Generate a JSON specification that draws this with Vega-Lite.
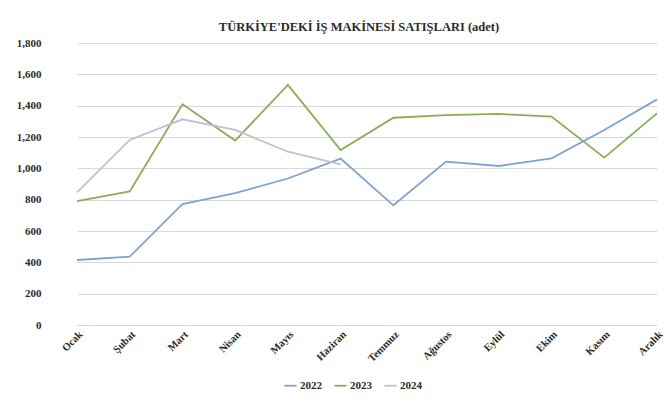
{
  "$schema": "https://vega.github.io/schema/vega-lite/v6.json",
  "width": 616,
  "height": 282,
  "padding": {"left": 16, "top": 20, "right": 0, "bottom": 5},
  "background": "white",
  "title": {
    "text": "TÜRKİYE'DEKİ İŞ MAKİNESİ SATIŞLARI (adet)",
    "font": "Liberation Serif",
    "fontSize": 12.5,
    "fontWeight": "bold",
    "color": "#2b2b2b",
    "offset": 4
  },
  "config": {
    "view": {"stroke": null},
    "font": "Liberation Serif"
  },
  "data": {
    "values": [
      {"ay": "Ocak", "yil": "2022", "adet": 415},
      {"ay": "Şubat", "yil": "2022", "adet": 437},
      {"ay": "Mart", "yil": "2022", "adet": 772},
      {"ay": "Nisan", "yil": "2022", "adet": 842},
      {"ay": "Mayıs", "yil": "2022", "adet": 935},
      {"ay": "Haziran", "yil": "2022", "adet": 1062},
      {"ay": "Temmuz", "yil": "2022", "adet": 764},
      {"ay": "Ağustos", "yil": "2022", "adet": 1043},
      {"ay": "Eylül", "yil": "2022", "adet": 1015},
      {"ay": "Ekim", "yil": "2022", "adet": 1064},
      {"ay": "Kasım", "yil": "2022", "adet": 1245},
      {"ay": "Aralık", "yil": "2022", "adet": 1440},
      {"ay": "Ocak", "yil": "2023", "adet": 791},
      {"ay": "Şubat", "yil": "2023", "adet": 853},
      {"ay": "Mart", "yil": "2023", "adet": 1409},
      {"ay": "Nisan", "yil": "2023", "adet": 1177},
      {"ay": "Mayıs", "yil": "2023", "adet": 1532},
      {"ay": "Haziran", "yil": "2023", "adet": 1117},
      {"ay": "Temmuz", "yil": "2023", "adet": 1323},
      {"ay": "Ağustos", "yil": "2023", "adet": 1340},
      {"ay": "Eylül", "yil": "2023", "adet": 1347},
      {"ay": "Ekim", "yil": "2023", "adet": 1330},
      {"ay": "Kasım", "yil": "2023", "adet": 1068},
      {"ay": "Aralık", "yil": "2023", "adet": 1351},
      {"ay": "Ocak", "yil": "2024", "adet": 847},
      {"ay": "Şubat", "yil": "2024", "adet": 1181},
      {"ay": "Mart", "yil": "2024", "adet": 1313},
      {"ay": "Nisan", "yil": "2024", "adet": 1245},
      {"ay": "Mayıs", "yil": "2024", "adet": 1106},
      {"ay": "Haziran", "yil": "2024", "adet": 1025}
    ]
  },
  "mark": {"type": "line", "strokeWidth": 1.8},
  "encoding": {
    "x": {
      "field": "ay",
      "type": "ordinal",
      "sort": ["Ocak", "Şubat", "Mart", "Nisan", "Mayıs", "Haziran", "Temmuz", "Ağustos", "Eylül", "Ekim", "Kasım", "Aralık"],
      "scale": {"type": "point", "range": [26, 606], "padding": 0},
      "axis": {
        "title": null,
        "labelAngle": -45,
        "labelAlign": "right",
        "labelBaseline": "top",
        "ticks": false,
        "domain": false,
        "labelPadding": 4,
        "labelFont": "Liberation Serif",
        "labelFontWeight": "bold",
        "labelFontSize": 10.5,
        "labelColor": "#2b2b2b"
      }
    },
    "y": {
      "field": "adet",
      "type": "quantitative",
      "scale": {"domain": [0, 1800]},
      "axis": {
        "title": null,
        "values": [0, 200, 400, 600, 800, 1000, 1200, 1400, 1600, 1800],
        "format": ",d",
        "ticks": false,
        "domain": false,
        "labelPadding": 10,
        "labelFont": "Liberation Serif",
        "labelFontWeight": "bold",
        "labelFontSize": 11,
        "labelColor": "#2b2b2b",
        "gridColor": "#d9d9d9",
        "gridWidth": 1
      }
    },
    "color": {
      "field": "yil",
      "type": "nominal",
      "scale": {"domain": ["2022", "2023", "2024"], "range": ["#7fa3d0", "#89ad5a", "#c3bddb"]},
      "legend": {
        "title": null,
        "orient": "none",
        "legendX": 232,
        "legendY": 335,
        "direction": "horizontal",
        "symbolType": "stroke",
        "symbolStrokeWidth": 1.8,
        "symbolSize": 150,
        "labelFont": "Liberation Serif",
        "labelFontWeight": "bold",
        "labelFontSize": 11,
        "labelColor": "#2b2b2b",
        "columnPadding": 8,
        "labelOffset": 2
      }
    }
  }
}
